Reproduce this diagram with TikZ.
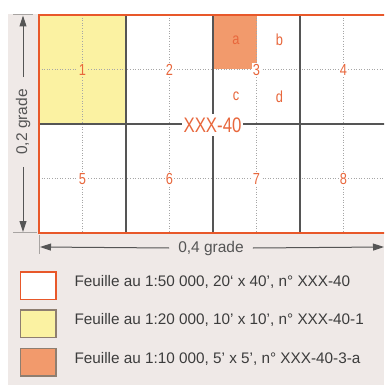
\documentclass[tikz,border=0pt]{standalone}
\usepackage{fontspec}
\setmainfont{Liberation Sans}
\newfontfamily\narrowfont[FakeStretch=0.8]{Liberation Sans}
\usetikzlibrary{arrows.meta}

\definecolor{mapbg}{HTML}{EFE9E7}
\definecolor{maporange}{HTML}{E8582A}
\definecolor{labelorange}{HTML}{E8673C}
\definecolor{sheetyellow}{HTML}{FBF2A2}
\definecolor{sheetsalmon}{HTML}{F29A6C}
\definecolor{gridgray}{HTML}{555555}
\definecolor{tickgray}{HTML}{A8A4A2}
\definecolor{boxedge}{HTML}{8E7E70}
\definecolor{legendtext}{HTML}{3C3C3C}

\tikzset{
  dotgrid/.style={gray!70,dotted,line width=0.6pt},
  solidgrid/.style={gridgray,line width=1.3pt},
  sheetnum/.style={text=labelorange,inner sep=1pt,font=\narrowfont\fontsize{16}{16}\selectfont},
  dimlabel/.style={font=\fontsize{15.5}{16}\selectfont,text=gridgray},
  legendbox/.style={line width=1.2pt},
  legendlabel/.style={anchor=base west,text=legendtext,font=\fontsize{15.3}{18}\selectfont}
}

\begin{document}
\begin{tikzpicture}[x=1pt,y=-1pt,>={Triangle[length=11pt,width=7pt]},line join=miter]
  \useasboundingbox (0,0) rectangle (384,385);
  \fill[mapbg] (8,14) rectangle (384,385);

  \begin{scope}
    \clip (0,0) rectangle (384,385);
    % sheets
    \fill[white] (39,15) rectangle (387,233);
    \fill[sheetyellow] (39,15) rectangle (126,124);
    \fill[sheetsalmon] (213,15) rectangle (256.5,69.5);

    % quarter lines
    \foreach \x in {82.5,169.5,256.5,343.5}
      \draw[dotgrid] (\x,15) -- (\x,233);
    \foreach \y in {69.5,178.5}
      \draw[dotgrid] (39,\y) -- (387,\y);

    % sheet lines
    \foreach \x in {126,213,300}
      \draw[solidgrid] (\x,15) -- (\x,233);
    \draw[solidgrid] (39,124) -- (387,124);

    \draw[maporange,line width=2.2pt] (39,15) rectangle (387,233);
  \end{scope}

  \node[fill=white,inner xsep=2pt,inner ysep=3.5pt,text=labelorange,
        font=\narrowfont\fontsize{21}{21}\selectfont] (sheet) at (212.5,125) {XXX-40};

  \foreach \n/\x/\y/\bg in {1/82.5/70/sheetyellow,2/169.5/70/white,3/256.5/70/white,4/343.5/70/white,
                            5/82.5/179/white,6/169.5/179/white,7/256.5/179/white,8/343.5/179/white}
    \node[sheetnum,fill=\bg] (num\n) at (\x,\y) {\n};

  \foreach \l/\x/\y in {a/236/40,b/279.5/40,c/236/96.5,d/279.5/96.5}
    \node[sheetnum] (sub\l) at (\x,\y) {\l};

  % dimensions
  \draw[tickgray,line width=0.8pt] (13,14.5) -- (33,14.5);
  \draw[tickgray,line width=0.8pt] (13,232.5) -- (37,232.5);
  \draw[tickgray,line width=0.8pt] (39,235) -- (39,254);
  \coordinate (vtop) at (23,15.5);
  \coordinate (vbot) at (23,232);
  \coordinate (hleft) at (40,247);
  \coordinate (hright) at (384,247);
  \node[dimlabel,rotate=90,inner xsep=12pt] (height) at (23,122) {0,2 grade};
  \node[dimlabel,inner xsep=9pt] (width) at (211,248) {0,4 grade};
  \draw[->,gridgray,line width=1pt] (height.east) -- (vtop);
  \draw[->,gridgray,line width=1pt] (height.west) -- (vbot);
  \draw[->,gridgray,line width=1pt] (width.west) -- (hleft);
  \draw[->,gridgray,line width=1pt] (width.east) -- (hright);

  % legend
  \draw[legendbox,maporange,fill=white] (20.5,272) rectangle (56,299.5);
  \draw[legendbox,boxedge,fill=sheetyellow] (20.5,310) rectangle (56,337.5);
  \draw[legendbox,boxedge,fill=sheetsalmon] (20.5,348.5) rectangle (56,376);
  \node[legendlabel] (key50) at (71,286) {Feuille au 1:50 000, 20‘ x 40’, n° XXX-40};
  \node[legendlabel] (key20) at (71,324.5) {Feuille au 1:20 000, 10’ x 10’, n° XXX-40-1};
  \node[legendlabel] (key10) at (71,363) {Feuille au 1:10 000, 5’ x 5’, n° XXX-40-3-a};
\end{tikzpicture}
\end{document}
